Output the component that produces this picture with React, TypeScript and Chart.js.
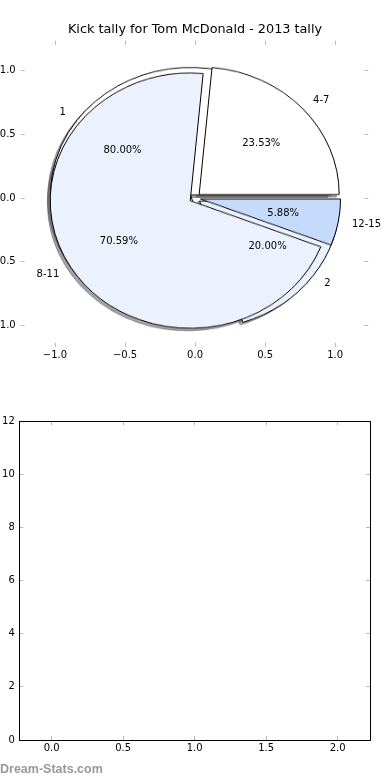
import React, { useEffect, useRef } from "react";
import { Chart, registerables } from "chart.js";
Chart.register(...registerables);

// ---------- data ----------
const chartTitle = "Kick tally for Tom McDonald - 2013 tally";
const pieALabels = ["1", "2"];
const pieAValues = [4, 1];
const pieAExplode = [0.04, 0.04];
const pieBLabels = ["4-7", "8-11", "12-15"];
const pieBValues = [4, 12, 1];
const pieBExplode = [0.04, 0.04, 0.04];
const sliceColors = ["#ffffff", "#ebf2fe", "#c6dafc"];
const pieTicks = [-1, -0.5, 0, 0.5, 1];
const pieXRange = [-1.245, 1.237];
const pieYRange = [-1.165, 1.233];
const bottomXTicks = [0, 0.5, 1, 1.5, 2];
const bottomYTicks = [0, 2, 4, 6, 8, 10, 12];
const bottomXRange = [-0.226, 2.226];
const bottomYRange = [0, 12];
const bottomSeries: { x: number; y: number }[] = [];
const watermark = "Dream-Stats.com";

// ---------- styles ----------
const FONT = "'DejaVu Sans', sans-serif";
const TICK_COLOR = "#b8b8b8";

const fmt = (v: number, d: number) =>
  (v < 0 ? "\u2212" : "") + Math.abs(v).toFixed(d);

const hexRgb = (h: string) => {
  const n = parseInt(h.slice(1), 16);
  return [(n >> 16) & 255, (n >> 8) & 255, n & 255];
};

const tickMarks = (len: number) => ({
  id: "tickMarks",
  afterDraw(chart: any) {
    const { ctx, chartArea: a, scales } = chart;
    ctx.save();
    ctx.strokeStyle = TICK_COLOR;
    ctx.lineWidth = 1;
    ctx.beginPath();
    scales.x.ticks.forEach((t: any) => {
      const p = Math.floor(scales.x.getPixelForValue(t.value)) + 0.5;
      ctx.moveTo(p, a.top);
      ctx.lineTo(p, a.top + len);
      ctx.moveTo(p, a.bottom);
      ctx.lineTo(p, a.bottom - len);
    });
    scales.y.ticks.forEach((t: any) => {
      const p = Math.floor(scales.y.getPixelForValue(t.value)) + 0.5;
      ctx.moveTo(a.left, p);
      ctx.lineTo(a.left + len, p);
      ctx.moveTo(a.right, p);
      ctx.lineTo(a.right - len, p);
    });
    ctx.stroke();
    ctx.restore();
  },
});

const pieTexts = {
  id: "pieTexts",
  afterDraw(chart: any) {
    const { ctx, scales } = chart;
    const draw = (values: number[], labels: string[], explode: number[]) => {
      const total = values.reduce((s, v) => s + v, 0);
      let cum = 0;
      values.forEach((v, i) => {
        const frac = v / total;
        const th = 2 * Math.PI * (cum + frac / 2);
        cum += frac;
        const c = Math.cos(th), s = Math.sin(th);
        const ox = explode[i] * c, oy = explode[i] * s;
        const lx = ox + 1.1 * c, ly = oy + 1.1 * s;
        ctx.textBaseline = "middle";
        ctx.textAlign = lx > 0 ? "left" : "right";
        ctx.fillText(labels[i], scales.x.getPixelForValue(lx), scales.y.getPixelForValue(ly));
        ctx.textAlign = "center";
        ctx.fillText(
          (frac * 100).toFixed(2) + "%",
          scales.x.getPixelForValue(ox + 0.6 * c),
          scales.y.getPixelForValue(oy + 0.6 * s)
        );
      });
    };
    ctx.save();
    ctx.fillStyle = "#000";
    ctx.font = `10px ${FONT}`;
    draw(pieAValues, pieALabels, pieAExplode);
    draw(pieBValues, pieBLabels, pieBExplode);
    ctx.restore();
  },
};

const explodePlugin = (expl: number[]) => ({
  id: "explode",
  afterDatasetsUpdate(chart: any) {
    chart.getDatasetMeta(0).data.forEach((arc: any, i: number) => {
      const mid = (arc.startAngle + arc.endAngle) / 2;
      const d = expl[i] * arc.outerRadius;
      arc.x += Math.cos(mid) * d;
      arc.y += Math.sin(mid) * d;
    });
  },
});

const shadowPlugin = (others: () => Chart[]) => ({
  id: "pieShadow",
  beforeDatasetsDraw(chart: any) {
    const ctx = chart.ctx;
    ctx.save();
    [chart, ...others()].forEach((c: any) => {
      c.getDatasetMeta(0).data.forEach((arc: any) => {
        const off = 0.02 * arc.outerRadius;
        const [r, g, b] = hexRgb(arc.options.backgroundColor).map((v) => Math.round(v * 0.3));
        const col = `rgba(${r},${g},${b},0.5)`;
        ctx.fillStyle = col;
        ctx.strokeStyle = col;
        ctx.lineWidth = 1;
        const x = arc.x - off, y = arc.y + off;
        ctx.beginPath();
        ctx.moveTo(x, y);
        ctx.arc(x, y, arc.outerRadius, arc.startAngle, arc.endAngle);
        ctx.closePath();
        ctx.fill();
        ctx.stroke();
      });
    });
    ctx.restore();
  },
});

function makePie(canvas: HTMLCanvasElement, labels: string[], values: number[], explode: number[], R: number, extra: any[]) {
  const colors = values.map((_, i) => sliceColors[i]).reverse();
  return new Chart(canvas, {
    type: "pie",
    data: {
      labels: [...labels].reverse(),
      datasets: [
        {
          data: [...values].reverse(),
          backgroundColor: colors,
          borderColor: "#000",
          borderWidth: 1,
          hoverBorderWidth: 1,
          hoverOffset: 0,
          offset: 0,
          borderJoinStyle: "miter",
          radius: R,
          rotation: 90,
        } as any,
      ],
    },
    options: {
      responsive: false,
      animation: false,
      events: [],
      radius: R,
      rotation: 90,
      layout: { padding: 0 },
      plugins: { legend: { display: false }, tooltip: { enabled: false } },
    } as any,
    plugins: [explodePlugin([...explode].reverse()), ...extra],
  });
}

export default function App() {
  const axesRef = useRef<HTMLCanvasElement>(null);
  const pieARef = useRef<HTMLCanvasElement>(null);
  const pieBRef = useRef<HTMLCanvasElement>(null);
  const bottomRef = useRef<HTMLCanvasElement>(null);

  useEffect(() => {
    document.body.style.margin = "0";
    const charts: Chart[] = [];

    const axes = new Chart(axesRef.current!, {
      type: "scatter",
      data: { datasets: [{ data: [] }] },
      options: {
        responsive: false,
        animation: false,
        events: [],
        layout: { padding: 0 },
        scales: {
          x: {
            type: "linear",
            min: pieXRange[0],
            max: pieXRange[1],
            grid: { display: false, drawTicks: false },
            border: { display: false },
            afterBuildTicks: (s: any) => {
              s.ticks = pieTicks.map((v) => ({ value: v }));
            },
            afterFit: (s: any) => {
              s.height = 380 - 346.7;
            },
            ticks: {
              font: { family: FONT, size: 10 },
              color: "#000",
              padding: 2.5,
              maxRotation: 0,
              autoSkip: false,
              callback: (v: any) => fmt(Number(v), 1),
            },
          },
          y: {
            type: "linear",
            min: pieYRange[0],
            max: pieYRange[1],
            grid: { display: false, drawTicks: false },
            border: { display: false },
            afterBuildTicks: (s: any) => {
              s.ticks = pieTicks.map((v) => ({ value: v }));
            },
            afterFit: (s: any) => {
              s.width = 20.7;
            },
            ticks: {
              font: { family: FONT, size: 10 },
              color: "#000",
              padding: 5,
              autoSkip: false,
              callback: (v: any) => fmt(Number(v), 1),
            },
          },
          yRight: {
            type: "linear",
            position: "right",
            min: pieYRange[0],
            max: pieYRange[1],
            grid: { display: false, drawTicks: false },
            border: { display: false },
            ticks: { display: false },
            afterFit: (s: any) => {
              s.width = 21.7;
            },
          },
        },
        plugins: {
          legend: { display: false },
          tooltip: { enabled: false },
          title: {
            display: true,
            text: chartTitle,
            color: "#000",
            font: { family: FONT, size: 12.8, weight: "normal" },
            padding: { top: 21.8, bottom: 40.7 - 21.8 - 12.8 * 1.2 },
          },
        },
      } as any,
      plugins: [tickMarks(4), pieTexts],
    });
    charts.push(axes);

    const xs: any = axes.scales.x;
    const ys: any = axes.scales.y;
    const cx = xs.getPixelForValue(0);
    const cy = ys.getPixelForValue(0);
    const R = xs.getPixelForValue(1) - cx;
    const Ry = cy - ys.getPixelForValue(1);
    const k = Ry / R;
    const S = 2 * Math.ceil(R * 1.15) + 10;
    const place = (c: HTMLCanvasElement) => {
      c.width = S;
      c.height = S;
      c.style.width = S + "px";
      c.style.height = S + "px";
      c.style.left = cx - S / 2 + "px";
      c.style.top = cy - S / 2 + "px";
      c.style.transformOrigin = "50% 50%";
      c.style.transform = `scaleY(${k})`;
    };
    place(pieARef.current!);
    place(pieBRef.current!);

    const pieB = makePie(pieBRef.current!, pieBLabels, pieBValues, pieBExplode, R, []);
    const pieA = makePie(pieARef.current!, pieALabels, pieAValues, pieAExplode, R, [shadowPlugin(() => [pieB])]);
    charts.push(pieB, pieA);

    const frame = {
      id: "frame",
      afterDraw(chart: any) {
        const { ctx, chartArea: a } = chart;
        ctx.save();
        ctx.strokeStyle = "#000";
        ctx.lineWidth = 1;
        const l = Math.floor(a.left) + 0.5, r = Math.floor(a.right) + 0.5;
        const t = Math.floor(a.top) + 0.5, b = Math.floor(a.bottom) + 0.5;
        ctx.strokeRect(l, t, r - l, b - t);
        ctx.restore();
      },
    };

    const bottom = new Chart(bottomRef.current!, {
      type: "scatter",
      data: { datasets: [{ data: bottomSeries }] },
      options: {
        responsive: false,
        animation: false,
        events: [],
        layout: { padding: { left: 0, right: 20, top: 41, bottom: 0 } },
        scales: {
          x: {
            type: "linear",
            min: bottomXRange[0],
            max: bottomXRange[1],
            grid: { display: false, drawTicks: false },
            border: { display: false },
            afterBuildTicks: (s: any) => {
              s.ticks = bottomXTicks.map((v) => ({ value: v }));
            },
            afterFit: (s: any) => {
              s.height = 40;
            },
            ticks: {
              font: { family: FONT, size: 10 },
              color: "#000",
              padding: 2.5,
              maxRotation: 0,
              autoSkip: false,
              callback: (v: any) => fmt(Number(v), 1),
            },
          },
          y: {
            type: "linear",
            min: bottomYRange[0],
            max: bottomYRange[1],
            grid: { display: false, drawTicks: false },
            border: { display: false },
            afterBuildTicks: (s: any) => {
              s.ticks = bottomYTicks.map((v) => ({ value: v }));
            },
            afterFit: (s: any) => {
              s.width = 19.3;
            },
            ticks: {
              font: { family: FONT, size: 10 },
              color: "#000",
              padding: 4.5,
              autoSkip: false,
              callback: (v: any) => String(v),
            },
          },
        },
        plugins: { legend: { display: false }, tooltip: { enabled: false } },
      } as any,
      plugins: [tickMarks(4), frame],
    });
    charts.push(bottom);

    return () => charts.forEach((c) => c.destroy());
  }, []);

  return (
    <div style={{ position: "relative", width: 390, height: 780, overflow: "hidden", background: "#fff" }}>
      <canvas ref={pieARef} style={{ position: "absolute" }} />
      <canvas ref={pieBRef} style={{ position: "absolute" }} />
      <canvas ref={axesRef} width={390} height={380} style={{ position: "absolute", left: 0, top: 0 }} />
      <canvas ref={bottomRef} width={390} height={400} style={{ position: "absolute", left: 0, top: 380 }} />
      <div
        style={{
          position: "absolute",
          left: 0,
          top: 761,
          fontFamily: "'Liberation Sans', Arial, sans-serif",
          fontWeight: "bold",
          fontSize: 12.5,
          lineHeight: "16px",
          color: "#999",
          whiteSpace: "nowrap",
        }}
      >
        {watermark}
      </div>
    </div>
  );
}
